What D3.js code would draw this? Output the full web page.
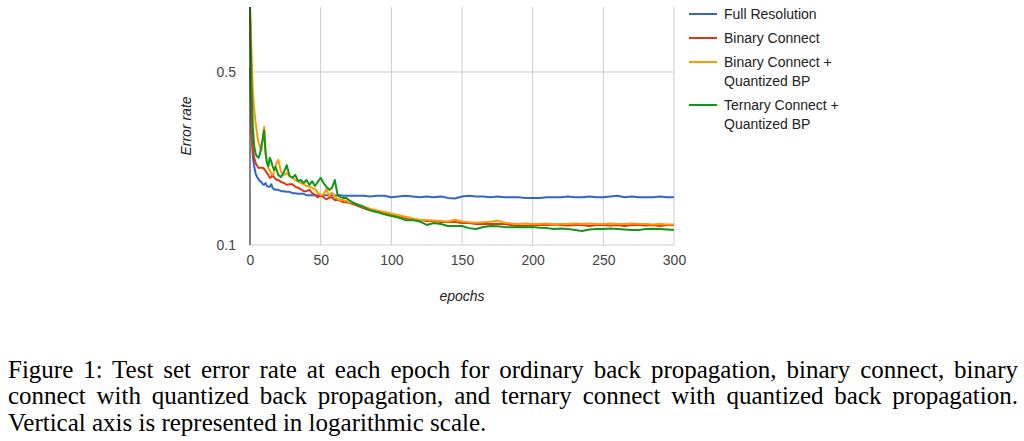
<!DOCTYPE html>
<html>
<head>
<meta charset="utf-8">
<script src="https://cdn.jsdelivr.net/npm/d3@7"></script>
<style>
  body { margin: 0; background: #fff; }
  svg { display: block; }
  .tick text { font-family: Arial, "Liberation Sans", sans-serif; font-size: 14px; fill: #444; }
  .domain { display: none; }
</style>
</head>
<body>
<svg id="chart" width="1024" height="441"></svg>
<script>
// Test error per epoch - log y axis, four training variants
const epochs = [0,1,2,3,4,5,6,7,8,9,10,11,12,13,14,15,16,17,18,19,20,
  22,24,26,28,30,32,34,36,38,40,42,44,46,48,50,52,54,56,58,60,62,64,66,68,70,
  75,80,85,90,95,100,105,110,115,120,125,130,135,140,145,150,155,160,165,170,175,180,185,190,195,
  200,205,210,215,220,225,230,235,240,245,250,255,260,265,270,275,280,285,290,295,300];

const fullRes = [0.52,0.29,0.227,0.207,0.194,0.188,0.185,0.181,0.180,0.176,0.175,0.178,0.173,0.172,0.172,0.176,0.170,0.168,0.167,0.167,0.167,
  0.165,0.165,0.164,0.164,0.162,0.162,0.161,0.161,0.161,0.159,0.159,0.159,0.159,0.159,0.158,0.159,0.159,0.158,0.159,0.158,0.159,0.159,0.158,0.158,0.158,
  0.158,0.158,0.157,0.158,0.158,0.156,0.157,0.158,0.157,0.156,0.157,0.156,0.157,0.155,0.154,0.157,0.158,0.157,0.157,0.156,0.157,0.156,0.156,0.156,0.155,
  0.155,0.155,0.156,0.156,0.156,0.157,0.156,0.156,0.157,0.156,0.156,0.157,0.158,0.156,0.157,0.156,0.156,0.156,0.157,0.156,0.156];

const binary = [0.85,0.32,0.242,0.225,0.214,0.209,0.205,0.205,0.205,0.205,0.203,0.199,0.195,0.192,0.187,0.188,0.192,0.188,0.185,0.183,0.183,
  0.180,0.178,0.175,0.176,0.176,0.172,0.170,0.168,0.165,0.165,0.167,0.162,0.159,0.156,0.159,0.156,0.153,0.155,0.156,0.152,0.152,0.151,0.149,0.149,0.148,
  0.145,0.141,0.138,0.136,0.135,0.132,0.131,0.1285,0.1274,0.1262,0.125,0.125,0.1238,0.1238,0.1238,0.1227,0.1227,0.1216,0.1216,0.1216,0.1216,0.1216,0.1205,0.1193,0.1193,
  0.1205,0.1205,0.1205,0.121,0.1205,0.12,0.1205,0.1205,0.1193,0.1205,0.1205,0.12,0.1205,0.1193,0.1205,0.1205,0.12,0.1205,0.1193,0.1205,0.1205];

const binaryQuant = [0.915,0.62,0.42,0.35,0.31,0.28,0.26,0.25,0.24,0.27,0.30,0.24,0.214,0.205,0.201,0.195,0.192,0.197,0.207,0.216,0.221,
  0.197,0.192,0.195,0.190,0.187,0.183,0.181,0.178,0.176,0.173,0.172,0.170,0.168,0.163,0.159,0.160,0.168,0.158,0.163,0.157,0.153,0.152,0.152,0.151,0.149,
  0.147,0.143,0.140,0.138,0.136,0.134,0.132,0.130,0.128,0.1262,0.1262,0.1255,0.125,0.1245,0.1265,0.1245,0.1235,0.123,0.1235,0.124,0.1255,0.123,0.1222,0.1216,0.1222,
  0.1216,0.1216,0.122,0.1212,0.1216,0.1216,0.122,0.1216,0.1222,0.1216,0.1216,0.1222,0.1216,0.1216,0.1222,0.1216,0.1216,0.121,0.1216,0.121,0.121];

const ternaryQuant = [0.915,0.45,0.30,0.25,0.233,0.228,0.225,0.233,0.250,0.268,0.291,0.235,0.215,0.208,0.225,0.218,0.208,0.201,0.207,0.200,0.192,
  0.188,0.197,0.210,0.190,0.187,0.192,0.181,0.183,0.178,0.183,0.175,0.181,0.173,0.180,0.187,0.178,0.172,0.167,0.170,0.183,0.159,0.156,0.155,0.155,0.152,
  0.146,0.143,0.138,0.136,0.133,0.131,0.129,0.126,0.1262,0.1245,0.1205,0.1227,0.1216,0.1193,0.1193,0.1193,0.117,0.116,0.1182,0.1193,0.119,0.1182,0.118,0.1182,0.118,
  0.1182,0.1175,0.117,0.116,0.1165,0.116,0.115,0.114,0.1155,0.116,0.116,0.1165,0.116,0.1155,0.115,0.115,0.116,0.1162,0.116,0.1155,0.115];

const seriesNames = ["Full Resolution", "Binary Connect", "Binary Connect +\nQuantized BP", "Ternary Connect +\nQuantized BP"];
const seriesValues = [fullRes, binary, binaryQuant, ternaryQuant];
const seriesColors = ["#3366cc", "#dc3912", "#ff9900", "#109618"];

const xTicks = [0, 50, 100, 150, 200, 250, 300];
const yTicks = [0.1, 0.5];

const captionLines = [
  "Figure 1: Test set error rate at each epoch for ordinary back propagation, binary connect, binary",
  "connect with quantized back propagation, and ternary connect with quantized back propagation.",
  "Vertical axis is represented in logarithmic scale."
];

const plot = { left: 250, right: 674, top: 7, bottom: 245 };
const sansFont = 'Arial, "Liberation Sans", sans-serif';
const serifFont = '"Liberation Serif", "Times New Roman", serif';

const svg = d3.select("#chart");

const x = d3.scaleLinear().domain([0, 300]).range([plot.left, plot.right]);
const y = d3.scaleLog().domain([0.1, 0.915]).range([plot.bottom, plot.top]);

// Gridlines
svg.append("g")
  .selectAll("line")
  .data(xTicks.filter(t => t > 0))
  .enter()
  .append("line")
  .attr("x1", d => x(d)).attr("x2", d => x(d))
  .attr("y1", plot.top).attr("y2", plot.bottom)
  .attr("stroke", "#cccccc")
  .attr("stroke-width", 1);

svg.append("g")
  .selectAll("line")
  .data(yTicks)
  .enter()
  .append("line")
  .attr("x1", plot.left).attr("x2", plot.right)
  .attr("y1", d => y(d)).attr("y2", d => y(d))
  .attr("stroke", "#cccccc")
  .attr("stroke-width", 1);

// Axes (labels only)
svg.append("g")
  .attr("transform", `translate(0,${plot.bottom})`)
  .call(d3.axisBottom(x).tickValues(xTicks).tickSize(0).tickPadding(10).tickFormat(d3.format("d")));

svg.append("g")
  .attr("transform", `translate(${plot.left - 14},0)`)
  .call(d3.axisLeft(y).tickValues(yTicks).tickSize(0).tickPadding(0).tickFormat(d3.format(".1f")));

// Series lines, blue first so green ends up on top
const line = d3.line()
  .x((d, i) => x(epochs[i]))
  .y(d => y(d));

svg.append("g")
  .selectAll("path")
  .data(seriesValues)
  .enter()
  .append("path")
  .attr("d", d => line(d))
  .attr("fill", "none")
  .attr("stroke", (d, i) => seriesColors[i])
  .attr("stroke-width", 2)
  .attr("stroke-linejoin", "round");

// left baseline
svg.append("line")
  .attr("x1", plot.left).attr("x2", plot.left)
  .attr("y1", plot.top).attr("y2", plot.bottom)
  .attr("stroke", "#333")
  .attr("stroke-width", 1.2);

// Axis titles
svg.append("text")
  .attr("x", (plot.left + plot.right) / 2)
  .attr("y", 301)
  .attr("text-anchor", "middle")
  .style("font-family", sansFont)
  .style("font-size", "14px")
  .style("font-style", "italic")
  .style("fill", "#222")
  .text("epochs");

svg.append("text")
  .attr("transform", `translate(191,${(plot.top + plot.bottom) / 2}) rotate(-90)`)
  .attr("text-anchor", "middle")
  .style("font-family", sansFont)
  .style("font-size", "14px")
  .style("font-style", "italic")
  .style("fill", "#222")
  .text("Error rate");

// Legend
const legendRows = [14, 38, 62, 105];
const legend = svg.append("g");
seriesNames.forEach((name, i) => {
  legend.append("line")
    .attr("x1", 689).attr("x2", 717)
    .attr("y1", legendRows[i]).attr("y2", legendRows[i])
    .attr("stroke", seriesColors[i])
    .attr("stroke-width", 2);
  name.split("\n").forEach((part, j) => {
    legend.append("text")
      .attr("x", 724)
      .attr("y", legendRows[i] + 5 + j * 19)
      .style("font-family", sansFont)
      .style("font-size", "14px")
      .style("fill", "#222")
      .text(part);
  });
});

// Caption, first two lines justified to the full text width
const captionLeft = 8, captionWidth = 1010;
const captionBaselines = [377.5, 404, 430.5];
captionLines.forEach((txt, i) => {
  const t = svg.append("text")
    .attr("x", captionLeft)
    .attr("y", captionBaselines[i])
    .style("font-family", serifFont)
    .style("font-size", "25px")
    .style("fill", "#000")
    .text(txt);
  if (i < 2) {
    const natural = t.node().getComputedTextLength();
    const spaces = txt.split(" ").length - 1;
    t.style("word-spacing", ((captionWidth - natural) / spaces) + "px");
  }
});
</script>
</body>
</html>
